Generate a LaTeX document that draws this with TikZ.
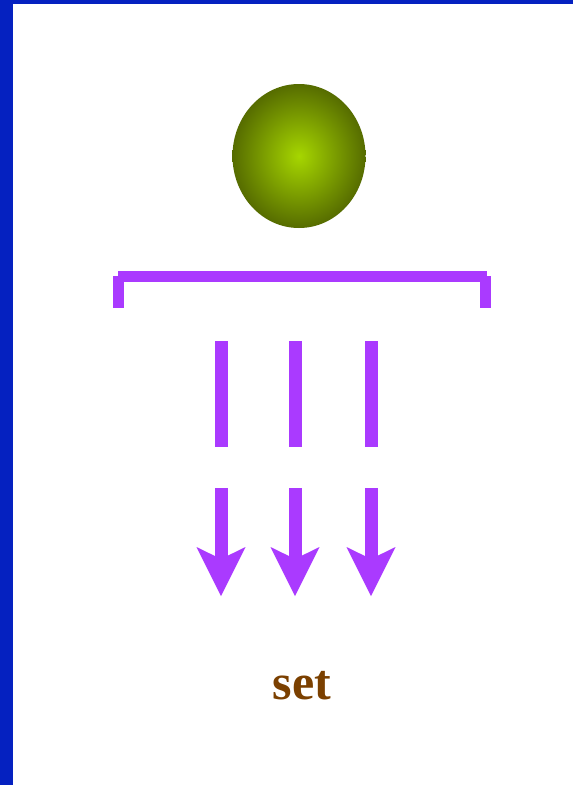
\documentclass[tikz,border=0pt]{standalone}
\usepackage{fontspec}
\setmainfont{Liberation Serif}
\usepackage{tikz}
\usetikzlibrary{shapes.geometric, arrows.meta}
\definecolor{frame}{HTML}{0521C0}
\definecolor{violet}{HTML}{AA3AFF}
\definecolor{olive}{HTML}{566C00}
\definecolor{lime}{HTML}{A6D600}
\definecolor{brown}{HTML}{7B4000}
\tikzset{
  ball/.style   ={ellipse, inner sep=0pt, minimum width=133pt, minimum height=144pt,
                  inner color=lime, outer color=olive},
  brace/.style  ={draw=violet, line width=11pt},
  bar/.style    ={draw=violet, line width=13pt},
  drop/.style   ={bar, -{Stealth[length=49pt, width=49pt, inset=12pt, line width=0pt]}},
  word/.style   ={text=brown, font=\bfseries\fontsize{50}{54}\selectfont}
}

\begin{document}
\begin{tikzpicture}[x=1pt, y=-1pt]
  \useasboundingbox (0,0) rectangle (573,785);
  \fill[white] (0,0) rectangle (573,785);
  % frame on the left and top
  \fill[frame] (0,0) rectangle (13,785);
  \fill[frame] (0,0) rectangle (573,4);

  \node[ball] (ball) at (299,156) {};

  % bracket
  \coordinate (bl) at (118,276);
  \coordinate (br) at (485,276);
  \draw[brace] (bl) -- (487,276);
  \draw[brace] (bl) -- (118,308);
  \draw[brace] (br) -- (485,308);

  % bars and arrows
  \foreach \x in {221,295,371} {
    \draw[bar]  (\x,341) -- (\x,447);
    \draw[drop] (\x,488) -- (\x,596);
  }

  \node[word, anchor=base] (set) at (302,699) {set};
\end{tikzpicture}
\end{document}
